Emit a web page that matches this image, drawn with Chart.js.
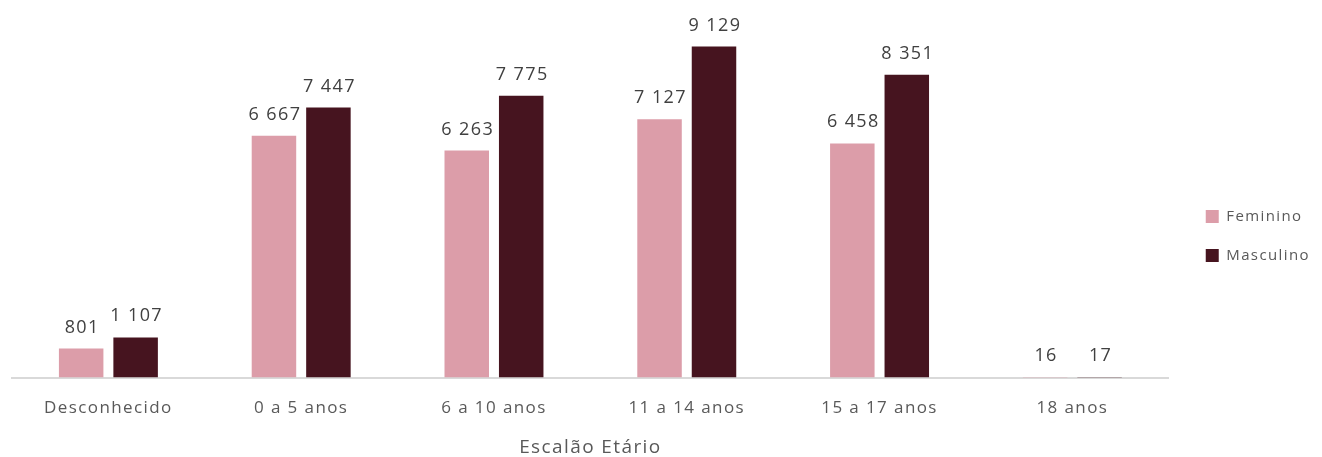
<!DOCTYPE html>
<html>
<head>
<meta charset="utf-8">
<script src="https://cdn.jsdelivr.net/npm/chart.js@4/dist/chart.umd.min.js"></script>
<style>
    html, body { margin: 0; padding: 0; background: #fff; }
    #wrap { width: 1322px; height: 457px; }
</style>
</head>
<body>
<div id="wrap"><canvas id="ageChart" width="1322" height="457"></canvas></div>
<script>
// dados
const categorias = ['Desconhecido', '0 a 5 anos', '6 a 10 anos', '11 a 14 anos', '15 a 17 anos', '18 anos'];
const feminino = [801, 6667, 6263, 7127, 6458, 16];
const masculino = [1107, 7447, 7775, 9129, 8351, 17];
const tituloEixo = 'Escalão Etário';

const fonte = "'Open Sans', 'DejaVu Sans', sans-serif";
const espaco = '1.4px';

function formatar(v) {
    return String(v).replace(/\B(?=(\d{3})+(?!\d))/g, ' ');
}

// espacamento entre letras + legenda um pouco mais a direita
const ajustes = {
    id: 'ajustes',
    beforeUpdate(chart) { chart.ctx.letterSpacing = espaco; },
    afterLayout(chart) {
        chart.legend.left += 13;
        chart.legend.right += 13;
    },
    beforeDraw(chart) { chart.ctx.letterSpacing = espaco; }
};

// etiquetas por cima das barras
const etiquetas = {
    id: 'etiquetas',
    afterDatasetsDraw(chart) {
        const ctx = chart.ctx;
        ctx.save();
        ctx.font = '18px ' + fonte;
        ctx.fillStyle = '#404040';
        ctx.textAlign = 'center';
        ctx.textBaseline = 'alphabetic';
        chart.data.datasets.forEach(function (ds, i) {
            chart.getDatasetMeta(i).data.forEach(function (bar, j) {
                ctx.fillText(formatar(ds.data[j]), bar.x + 1, bar.y - 16);
            });
        });
        ctx.restore();
    }
};

const ctx = document.getElementById('ageChart').getContext('2d');
const grafico = new Chart(ctx, {
    type: 'bar',
    data: {
        labels: categorias,
        datasets: [{
                label: 'Feminino',
                data: feminino,
                backgroundColor: '#DC9DA9'
            }, {
                label: 'Masculino',
                data: masculino,
                backgroundColor: '#46141F'
            }]
    },
    options: {
        responsive: false,
        animation: false,
        categoryPercentage: 0.565,
        barPercentage: 0.817,
        layout: {
            padding: { top: 15, left: 12, right: 15, bottom: 0 }
        },
        scales: {
            x: {
                grid: { display: false, drawTicks: false },
                border: { display: true, color: '#D9D9D9', width: 2 },
                ticks: { color: '#595959', font: { family: fonte, size: 17 }, padding: 20 },
                title: {
                    display: true,
                    text: tituloEixo,
                    color: '#595959',
                    font: { family: fonte, size: 19, lineHeight: 1.0 },
                    padding: { top: 0, bottom: 0 }
                }
            },
            y: {
                display: false,
                min: 0,
                max: 10000
            }
        },
        plugins: {
            legend: {
                position: 'right',
                labels: {
                    color: '#595959',
                    font: { family: fonte, size: 15 },
                    boxWidth: 13,
                    boxHeight: 13,
                    padding: 24
                }
            },
            tooltip: { enabled: false }
        }
    },
    plugins: [ajustes, etiquetas]
});
</script>
</body>
</html>
